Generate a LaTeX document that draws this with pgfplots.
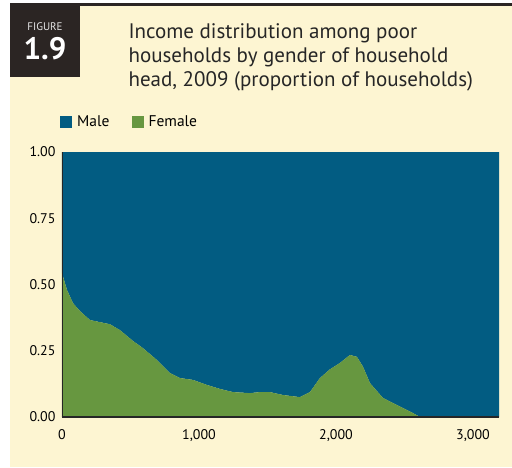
\documentclass[border=0pt]{standalone}
\usepackage{pgfplots}
\pgfplotsset{compat=1.18}
\usepackage{pgfplotstable}
\usepackage{fontspec}
\setmainfont{PT Sans}

\definecolor{maleblue}{RGB}{2,92,130}
\definecolor{femgreen}{RGB}{103,151,64}
\definecolor{cream}{RGB}{253,245,210}
\definecolor{darkbox}{RGB}{43,37,35}

% x = income, f = female share, m = male share (1 - f)
\pgfplotstableread{
x     f      m
0     0.543  0.457
36    0.480  0.520
80    0.430  0.570
131   0.400  0.600
204   0.366  0.634
277   0.358  0.642
350   0.350  0.650
423   0.328  0.672
518   0.287  0.713
591   0.260  0.740
693   0.215  0.785
788   0.166  0.834
861   0.147  0.853
956   0.140  0.860
1058  0.121  0.879
1153  0.106  0.894
1248  0.094  0.906
1372  0.090  0.910
1445  0.094  0.906
1518  0.094  0.906
1613  0.083  0.917
1737  0.075  0.925
1810  0.094  0.906
1883  0.147  0.853
1956  0.180  0.820
2029  0.204  0.796
2102  0.234  0.766
2153  0.227  0.773
2197  0.190  0.810
2248  0.128  0.872
2343  0.072  0.928
2445  0.045  0.955
2562  0.015  0.985
2613  0.000  1.000
3190  0.000  1.000
}\shares

\begin{document}
\begin{tikzpicture}[x=1pt,y=1pt]
  % page and panel
  \fill[white] (0,0) rectangle (512,467);
  \fill[cream] (10,0) rectangle (512,462);
  \fill[darkbox] (10,461) rectangle (512,464);
  \fill[darkbox] (10,390) rectangle (80,464);
  \node[text=white!80!gray, font=\fontsize{11}{11}\selectfont] at (45,440) {FIGURE};
  \node[text=white, font=\fontsize{31}{31}\selectfont\bfseries] at (45,418) {1.9};
  \node[anchor=north west, align=left, text=black!85,
        font=\fontsize{21}{24}\selectfont] at (125,447)
    {Income distribution among poor\\households by gender of household\\head, 2009 (proportion of households)};

  \begin{axis}[
      at={(62pt,50pt)}, anchor=south west,
      scale only axis, width=437pt, height=265pt,
      xmin=0, xmax=3190, ymin=0, ymax=1,
      stack plots=y,
      axis on top,
      axis x line*=bottom, axis y line*=left,
      axis line style={draw=black!85, -},
      x axis line style={line width=1.6pt},
      y axis line style={line width=0.8pt},
      major tick length=0pt,
      xtick={0,1000,2000,3000},
      ytick={0,0.25,0.5,0.75,1},
      font=\fontsize{14}{16}\selectfont,
      /pgf/number format/assume math mode=true,
      xticklabel style={yshift=-9pt, /pgf/number format/1000 sep={,}},
      yticklabel style={xshift=-3pt, /pgf/number format/.cd, fixed, fixed zerofill, precision=2},
      reverse legend,
      legend columns=2,
      legend style={at={(0,1)}, anchor=west, xshift=-5pt, yshift=30pt,
        draw=none, fill=none, font=\fontsize{15.5}{16}\selectfont,
        /tikz/every even column/.append style={column sep=20pt}},
      legend image code/.code={\fill[#1] (0pt,-6pt) rectangle (12pt,6pt); \path (15pt,0pt);},
    ]
    \addplot[draw=none, fill=femgreen] table[x=x, y=f] {\shares} \closedcycle;
    \addlegendentry{Female}
    \addplot[draw=none, fill=maleblue] table[x=x, y=m] {\shares} \closedcycle;
    \addlegendentry{Male}
  \end{axis}
\end{tikzpicture}
\end{document}
